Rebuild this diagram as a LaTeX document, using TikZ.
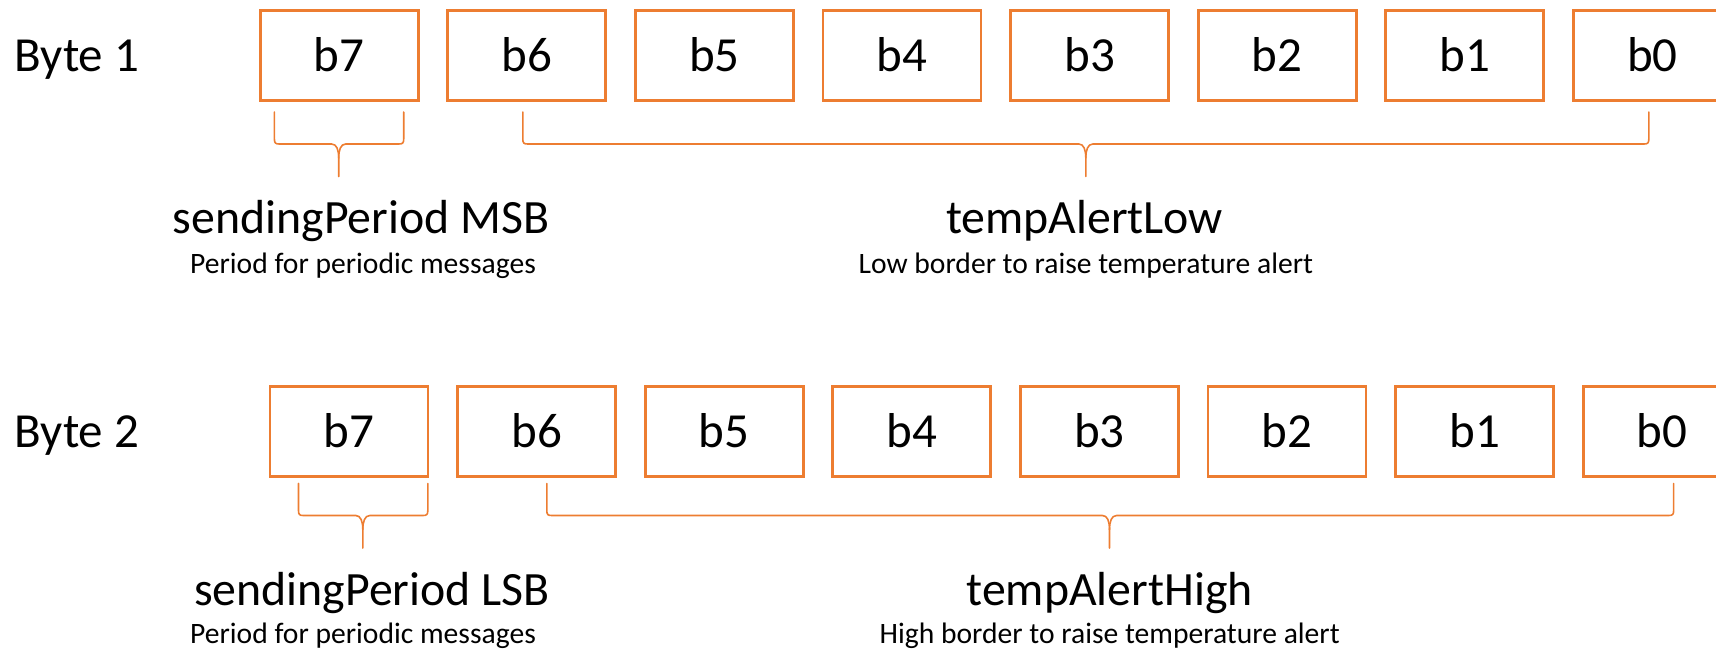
\documentclass[tikz,border=0pt]{standalone}
\usepackage{fontspec}
\setmainfont{Carlito}
\definecolor{acc}{HTML}{ED7D31}
\newcommand\bitbrace[7]{%
  % #1 name, #2 xl, #3 xr, #4 xt, #5 top, #6 h, #7 tip
  \coordinate (#1L) at (#2,#5);
  \coordinate (#1R) at (#3,#5);
  \coordinate (#1T) at (#4,#7);
  \draw[bracestroke] (#1L) -- ({#2},{#6-5}) .. controls ({#2},{#6-1}) and ({#2+1},{#6}) .. ({#2+5},{#6})
    -- ({#4-7},{#6}) .. controls ({#4-2},{#6}) and ({#4},{#6+6}) .. ({#4},{#6+14}) -- (#1T);
  \draw[bracestroke] ({#4},{#6+14}) .. controls ({#4},{#6+6}) and ({#4+2},{#6}) .. ({#4+7},{#6})
    -- ({#3-5},{#6}) .. controls ({#3-1},{#6}) and ({#3},{#6-1}) .. ({#3},{#6-5}) -- (#1R);
}
\begin{document}
\begin{tikzpicture}[x=0.5pt,y=-0.5pt,
  bitbox/.style={draw=acc,line width=1.4pt,minimum width=79pt,minimum height=45pt,
    inner sep=0pt,text height=16pt,text depth=0pt,font=\fontsize{24.5}{28}\selectfont},
  bytelabel/.style={anchor=base west,inner sep=0pt,font=\fontsize{24.5}{28}\selectfont},
  fieldname/.style={anchor=base,inner sep=0pt,font=\fontsize{23.9}{28}\selectfont},
  fielddesc/.style={anchor=base,inner sep=0pt,font=\fontsize{14.8}{18}\selectfont},
  bracestroke/.style={draw=acc,line width=0.8pt,line cap=round,line join=round}]
\useasboundingbox (0,0) rectangle (1716,650);
\clip (0,0) rectangle (1716,650);

% Byte 1
\node[bytelabel] (byte1) at (14,71) {Byte 1};
\foreach \i/\lab in {0/7,1/6,2/5,3/4,4/3,5/2,6/1,7/0}{
  \node[bitbox] (r1b\lab) at ({339.2+187.6*\i},55.5) {b\lab};
}
\bitbrace{bA}{274.4}{403.7}{338.7}{112}{144}{176.5}
\bitbrace{bB}{522.8}{1648.8}{1085.8}{112}{144}{176.5}
\node[fieldname] (f1) at (361,233.5) {sendingPeriod MSB};
\node[fielddesc] (d1) at (363,273) {Period for periodic messages};
\node[fieldname] (f2) at (1084.5,233.5) {tempAlertLow};
\node[fielddesc] (d2) at (1085.8,273) {Low border to raise temperature alert};

% Byte 2
\node[bytelabel] (byte2) at (14,447) {Byte 2};
\foreach \i/\lab in {0/7,1/6,2/5,3/4,4/3,5/2,6/1,7/0}{
  \node[bitbox] (r2b\lab) at ({349.0+187.6*\i},431.2) {b\lab};
}
\bitbrace{bC}{298.5}{427.8}{362.8}{483.5}{515.5}{548}
\bitbrace{bD}{546.8}{1673.6}{1109.5}{483.5}{515.5}{548}
\node[fieldname] (f3) at (372,605) {sendingPeriod LSB};
\node[fielddesc] (d3) at (363,643) {Period for periodic messages};
\node[fieldname] (f4) at (1109.6,605) {tempAlertHigh};
\node[fielddesc] (d4) at (1109.7,643) {High border to raise temperature alert};
\end{tikzpicture}
\end{document}
